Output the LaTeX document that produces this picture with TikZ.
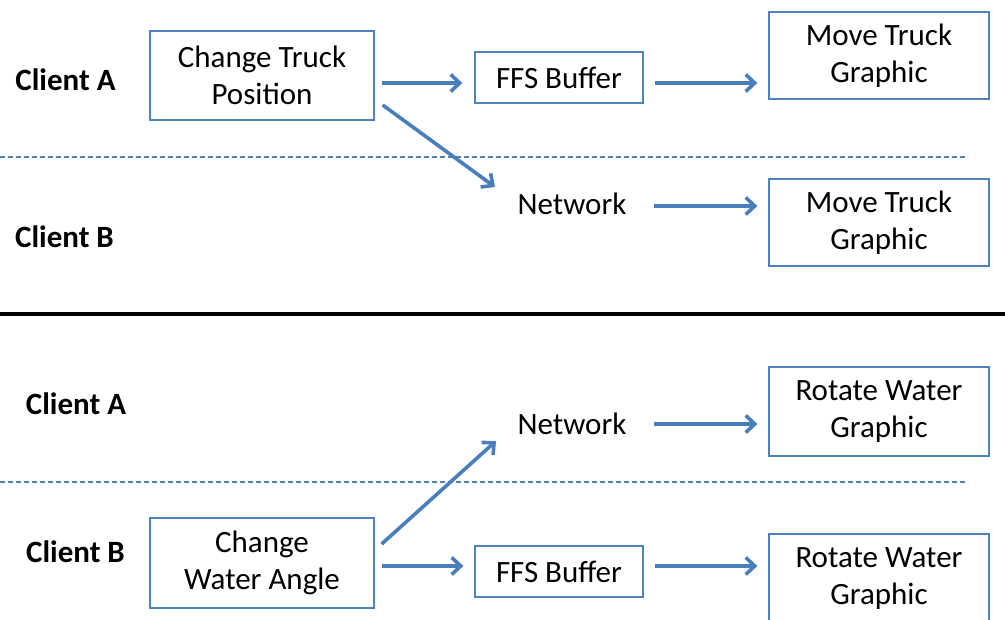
\documentclass[tikz,border=0pt]{standalone}
\usepackage{fontspec}
\setmainfont{Carlito}
\usetikzlibrary{arrows.meta}
\definecolor{boxblue}{HTML}{4F81BD}
\definecolor{arrblue}{HTML}{4A7EBB}
\tikzset{
  boxnode/.style={draw=boxblue, line width=1.3pt, align=center, inner sep=0pt,
    font=\fontsize{31}{37}\selectfont},
  plain/.style={align=center, inner sep=0pt, font=\fontsize{31}{37}\selectfont},
  client/.style={inner sep=0pt, font=\fontsize{31}{36}\selectfont\bfseries},
  arr/.style={draw=arrblue, line width=3.6pt, -{Straight Barb[length=9pt,width=17pt]}},
  sep/.style={draw=boxblue, line width=1.2pt, dash pattern=on 5pt off 3pt},
  thick sep/.style={draw=black, line width=4pt}
}
\begin{document}
\begin{tikzpicture}[x=1pt,y=-1pt]
\useasboundingbox (0,0) rectangle (1005,620);
\clip (0,0) rectangle (1005,620);
% ---------- top section ----------
\node[client] (ca1) at (65.5,80) {Client A};
\node[client] (cb1) at (64.5,237) {Client B};
\node[boxnode, minimum width=224pt, minimum height=89pt] (ctp) at (262,75.5) {Change Truck\\Position};
\node[boxnode, minimum width=168pt, minimum height=51pt] (ffs1) at (559,77.5) {FFS Buffer};
\node[boxnode, minimum width=220pt, minimum height=87pt] (mtg1) at (879,55.5) {Move Truck\\Graphic};
\node[plain] (net1) at (572,204) {Network};
\node[boxnode, minimum width=220pt, minimum height=87pt] (mtg2) at (879,222.5) {Move Truck\\Graphic};
\draw[sep] (0,157) -- (968,157);
\draw[arr] ([shift={(7,7.5)}]ctp.east) -- ([shift={(-12,5.5)}]ffs1.west);
\draw[arr] ([shift={(11,5.5)}]ffs1.east) -- ([shift={(-11,27.5)}]mtg1.west);
\draw[arr] ([shift={(8,29.5)}]ctp.east) -- ([shift={(-77,-17)}]net1.center);
\draw[arr] ([shift={(82,2)}]net1.center) -- ([shift={(-11,-16.5)}]mtg2.west);
% ---------- divider ----------
\draw[thick sep] (0,314) -- (1005,314);
% ---------- bottom section ----------
\node[client] (ca2) at (76,404) {Client A};
\node[client] (cb2) at (75.5,552) {Client B};
\node[plain] (net2) at (572,424) {Network};
\node[boxnode, minimum width=220pt, minimum height=89pt] (rwg1) at (879,411.5) {Rotate Water\\Graphic};
\draw[sep] (0,482) -- (968,482);
\node[boxnode, minimum width=224pt, minimum height=90pt] (cwa) at (262,563) {Change\\Water Angle};
\node[boxnode, minimum width=168pt, minimum height=51pt] (ffs2) at (559,571.5) {FFS Buffer};
\node[boxnode, minimum width=220pt, minimum height=89pt] (rwg2) at (879,578.5) {Rotate Water\\Graphic};
\draw[arr] ([shift={(7,-19)}]cwa.east) -- ([shift={(-76,17)}]net2.center);
\draw[arr] ([shift={(7,3)}]cwa.east) -- ([shift={(-11,-5.5)}]ffs2.west);
\draw[arr] ([shift={(82,0)}]net2.center) -- ([shift={(-11,12.5)}]rwg1.west);
\draw[arr] ([shift={(11,-5.5)}]ffs2.east) -- ([shift={(-11,-12.5)}]rwg2.west);
\end{tikzpicture}
\end{document}
